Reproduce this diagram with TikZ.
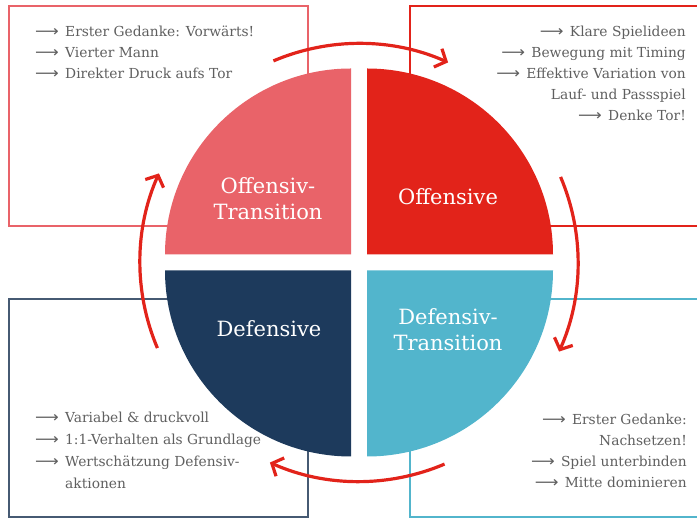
\documentclass[tikz,border=0pt]{standalone}
\usepackage{graphicx}
\usepackage{fontspec}
\setmainfont{DejaVu Serif}
\newfontfamily\arrowfont{DejaVu Sans}
\usetikzlibrary{arrows.meta}
\definecolor{offtrans}{RGB}{233,99,105}
\definecolor{offred}{RGB}{226,35,26}
\definecolor{defnavy}{RGB}{29,58,92}
\definecolor{deftrans}{RGB}{82,181,204}
\definecolor{framenavy}{RGB}{70,90,115}
\definecolor{listgray}{RGB}{95,95,95}
\newcommand{\itemarrow}{\makebox[30pt][l]{\scalebox{1.2}[1.1]{\arrowfont ⟶}}}

\begin{document}
\begin{tikzpicture}[
  x=1pt, y=1pt,
  frame/.style={line width=1.4pt},
  phase/.style={text=white, font=\fontsize{21}{26}\selectfont, align=center, inner sep=0pt},
  list/.style={text=listgray, font=\fontsize{13.8}{21}\selectfont, inner sep=0pt},
  cyclearrow/.style={offred, line width=3.2pt, -{Straight Barb[length=9pt,width=20pt]}}
]
\useasboundingbox (0,0) rectangle (697,518);
\clip (0,0) rectangle (697,518);
\coordinate (c) at (359,255.5);

% frames behind the circle
\draw[frame, draw=offtrans] (9,292) rectangle (308,512);
\draw[frame, draw=offred] (410,292) rectangle (705,512);
\draw[frame, draw=framenavy] (9,1) rectangle (308,219);
\draw[frame, draw=deftrans] (410,1) rectangle (705,219);

% quadrants
\fill[offtrans] (351,263.5) -- ++(-186,0) arc[start angle=180, end angle=90, radius=186] -- cycle;
\fill[offred] (367,263.5) -- ++(0,186) arc[start angle=90, end angle=0, radius=186] -- cycle;
\fill[defnavy] (351,247.5) -- ++(0,-186) arc[start angle=270, end angle=180, radius=186] -- cycle;
\fill[deftrans] (367,247.5) -- ++(186,0) arc[start angle=0, end angle=-90, radius=186] -- cycle;

\node[phase] (offtr) at (268,319.5) {Offensiv-\\Transition};
\node[phase] (off) at (448,321) {Offensive};
\node[phase] (def) at (269,189) {Defensive};
\node[phase] (deftr) at (448,188) {Defensiv-\\Transition};

% cycle arrows
\foreach \a in {90,0,-90,180}
  \draw[cyclearrow] ([shift={({\a+23}:219)}]c) arc[start angle=\a+23, end angle=\a-24, radius=219];

% lists
\node[list, anchor=north west, align=left] (offtrlist) at (35,492)
  {\itemarrow Erster Gedanke: Vorwärts!\\
   \itemarrow Vierter Mann\\
   \itemarrow Direkter Druck aufs Tor};
\node[list, anchor=north east, align=right] (offlist) at (686,492)
  {\itemarrow Klare Spielideen\\
   \itemarrow Bewegung mit Timing\\
   \itemarrow Effektive Variation von\\
   Lauf- und Passspiel\\
   \itemarrow Denke Tor!};
\node[list, anchor=north west, align=left, font=\fontsize{13.8}{22}\selectfont] (deflist) at (35,106)
  {\itemarrow Variabel \& druckvoll\\
   \itemarrow 1:1-Verhalten als Grundlage\\
   \itemarrow Wertschätzung Defensiv-\\
   \hspace*{30pt}aktionen};
\node[list, anchor=north east, align=right] (deftrlist) at (687,104)
  {\itemarrow Erster Gedanke:\\
   Nachsetzen!\\
   \itemarrow Spiel unterbinden\\
   \itemarrow Mitte dominieren};
\end{tikzpicture}
\end{document}
